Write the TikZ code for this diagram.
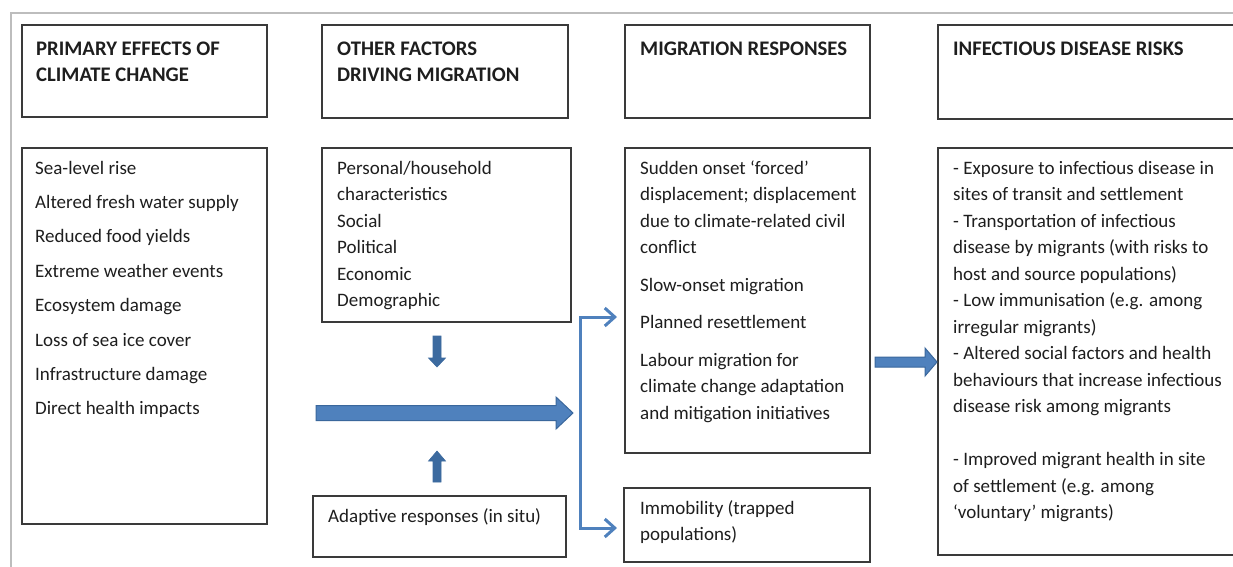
\documentclass[tikz,border=0pt]{standalone}
\usepackage{fontspec}
\setmainfont{Carlito}
\usetikzlibrary{arrows.meta}
\definecolor{boxline}{HTML}{3A3A3A}
\definecolor{framegray}{HTML}{BDBDBD}
\definecolor{arrfill}{HTML}{4F81BD}
\definecolor{arredge}{HTML}{3A679C}
\definecolor{smallarr}{HTML}{3C6A9F}
\definecolor{txt}{HTML}{1E1E1E}
\begin{document}
\begin{tikzpicture}[x=1pt,y=-1pt,
  box/.style={draw=boxline,line width=1.5pt,inner sep=0pt,outer sep=0pt,anchor=north west},
  headtext/.style={anchor=base west,align=left,inner sep=0pt,text=txt,font=\fontsize{20.7}{26.7}\selectfont\bfseries},
  bodytext/.style={anchor=base west,align=left,inner sep=0pt,text=txt,font=\fontsize{19}{26.5}\selectfont},
  bigarrow/.style={fill=arrfill,draw=arredge,line width=1pt,line join=miter},
  smallarrow/.style={fill=smallarr,draw=smallarr,line width=0.6pt,line join=miter},
  brk/.style={draw=arrfill,line width=3pt,-{Straight Barb[length=10pt,width=18pt]}}]
\clip (0,0) rectangle (1233,566);
\fill[white] (0,0) rectangle (1233,566);
% outer frame
\draw[framegray,line width=2pt] (11,580) -- (11,13) -- (1250,13);

% boxes
\node[box,minimum width=245pt,minimum height=92pt] (hA) at (22,25) {};
\node[box,minimum width=245pt,minimum height=376pt] (bA) at (22,148) {};
\node[box,minimum width=246pt,minimum height=93pt] (hB) at (322,25) {};
\node[box,minimum width=249pt,minimum height=174pt] (bB) at (322,148) {};
\node[box,minimum width=245pt,minimum height=93pt] (hC) at (625,25) {};
\node[box,minimum width=245pt,minimum height=305pt] (bC) at (625,148) {};
\node[box,minimum width=246pt,minimum height=74pt] (cC) at (624,488) {};
\node[box,minimum width=320pt,minimum height=94pt] (hD) at (938,25) {};
\node[box,minimum width=320pt,minimum height=407pt] (bD) at (938,148) {};
\node[box,minimum width=253pt,minimum height=61pt] (ad) at (313,496) {};

% header texts (anchored at the baseline of their last line)
\node[headtext] (thA) at (36,81.7) {PRIMARY EFFECTS OF\\CLIMATE CHANGE};
\node[headtext] (thB) at (337,81.7) {OTHER FACTORS\\DRIVING MIGRATION};
\node[headtext] (thC) at (640,55) {MIGRATION RESPONSES};
\node[headtext] (thD) at (953,55) {INFECTIOUS DISEASE RISKS};

% body texts (anchored at the baseline of their last line)
\node[bodytext,font=\fontsize{19}{34.4}\selectfont] (tbA) at (35,414.8) {Sea-level rise\\Altered fresh water supply\\Reduced food yields\\Extreme weather events\\Ecosystem damage\\Loss of sea ice cover\\Infrastructure damage\\Direct health impacts};
\node[bodytext] (tbB) at (337,306.5) {Personal/household\\characteristics\\Social\\Political\\Economic\\Demographic};
\node[bodytext] (tbC) at (640,419) {Sudden onset ‘forced’\\displacement; displacement\\due to climate-related civil\\conflict\\[11pt]Slow-onset migration\\[11pt]Planned resettlement\\[11pt]Labour migration for\\climate change adaptation\\and mitigation initiatives};
\node[bodytext] (tcC) at (640,540.5) {Immobility (trapped\\populations)};
\node[bodytext] (tad) at (328,522) {Adaptive responses (in situ)};
\node[bodytext] (tbD) at (953,518.5) {- Exposure to infectious disease in\\sites of transit and settlement\\- Transportation of infectious\\disease by migrants (with risks to\\host and source populations)\\- Low immunisation (e.g. among\\irregular migrants)\\- Altered social factors and health\\behaviours that increase infectious\\disease risk among migrants\\[26.5pt]- Improved migrant health in site\\of settlement (e.g. among\\‘voluntary’ migrants)};

% block arrows
\path[bigarrow] (316,405.5) -- (556,405.5) -- (556,397) -- (573,413) -- (556,429) -- (556,420.5) -- (316,420.5) -- cycle;
\path[bigarrow] (875,357) -- (925,357) -- (925,348) -- (937,362) -- (925,376) -- (925,367) -- (875,367) -- cycle;
\path[smallarrow] (433,336) -- (441,336) -- (441,358) -- (445.5,358) -- (437,367) -- (428.5,358) -- (433,358) -- cycle;
\path[smallarrow] (433,482) -- (441,482) -- (441,461) -- (445.5,461) -- (437,451) -- (428.5,461) -- (433,461) -- cycle;

% bracket
\coordinate (split) at (580,413);
\coordinate (t1) at (617,317);
\coordinate (t2) at (617,528);
\draw[brk] (split) |- (t1);
\draw[brk] (split) |- (t2);
\end{tikzpicture}
\end{document}
